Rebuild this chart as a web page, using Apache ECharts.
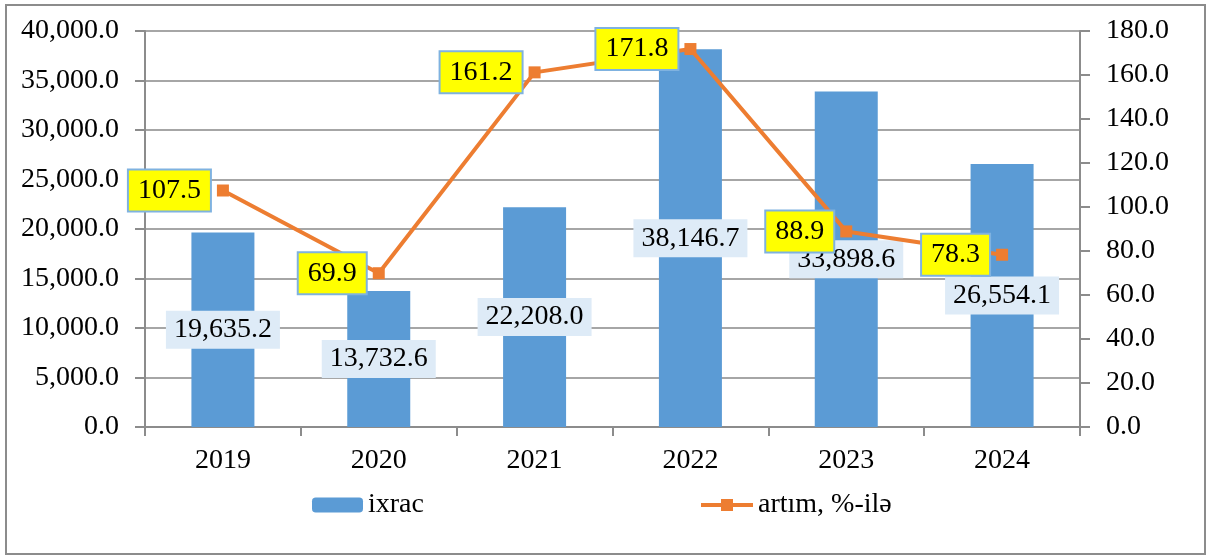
<!DOCTYPE html>
<html>
<head>
<meta charset="utf-8">
<script src="https://cdn.jsdelivr.net/npm/echarts@6/dist/echarts.min.js"></script>
<style>
  html, body { margin: 0; padding: 0; background: #fff; }
  #chart { width: 1207px; height: 556px; }
</style>
</head>
<body>
<div id="chart"></div>
<script>
const years = ["2019", "2020", "2021", "2022", "2023", "2024"];
const exportValues = [19635.2, 13732.6, 22208.0, 38146.7, 33898.6, 26554.1];
const growthValues = [107.5, 69.9, 161.2, 171.8, 88.9, 78.3];

const serif = "Liberation Serif";
const fmt1 = v => Number(v).toLocaleString("en-US", { minimumFractionDigits: 1, maximumFractionDigits: 1 });

const chart = echarts.init(document.getElementById("chart"));

const options = {
  animation: false,
  textStyle: { fontFamily: serif },
  graphic: [{
    type: "rect",
    shape: { x: 6, y: 5, width: 1199, height: 549 },
    style: { fill: "none", stroke: "#8c8c8c", lineWidth: 2 },
    silent: true
  }],
  grid: { left: 145, right: 127, top: 31, bottom: 129 },
  legend: [
    {
      left: 307, top: 486,
      data: ["ixrac"],
      itemWidth: 51, itemHeight: 15,
      textStyle: { fontFamily: serif, fontSize: 28, color: "#000" }
    },
    {
      left: 694, top: 486,
      data: ["artım, %-ilə"],
      itemWidth: 52, itemHeight: 15,
      lineStyle: { width: 4 },
      textStyle: { fontFamily: serif, fontSize: 28, color: "#000" }
    }
  ],
  xAxis: {
    type: "category",
    data: years,
    axisLine: { lineStyle: { color: "#8c8c8c", width: 2 } },
    axisTick: { show: true, length: 9, lineStyle: { color: "#8c8c8c", width: 2 } },
    axisLabel: { fontFamily: serif, fontSize: 28, color: "#000", margin: 20 }
  },
  yAxis: [
    {
      type: "value",
      min: 0, max: 40000, interval: 5000,
      axisLine: { show: true, lineStyle: { color: "#8c8c8c", width: 2 } },
      axisTick: { show: true, length: 10, lineStyle: { color: "#8c8c8c", width: 2 } },
      splitLine: { lineStyle: { color: "#a6a6a6", width: 2 } },
      axisLabel: { fontFamily: serif, fontSize: 28, color: "#000", margin: 26, formatter: fmt1 }
    },
    {
      type: "value",
      min: 0, max: 180, interval: 20,
      axisLine: { show: true, lineStyle: { color: "#8c8c8c", width: 2 } },
      axisTick: { show: true, length: 10, lineStyle: { color: "#8c8c8c", width: 2 } },
      splitLine: { show: false },
      axisLabel: { fontFamily: serif, fontSize: 28, color: "#000", margin: 26, formatter: fmt1 }
    }
  ],
  series: [
    {
      name: "ixrac",
      type: "bar",
      data: exportValues,
      barWidth: 63,
      itemStyle: { color: "#5B9BD5" },
      z: 2,
      label: {
        show: true,
        position: "inside",
        formatter: p => fmt1(p.value),
        fontFamily: serif, fontSize: 28, color: "#000",
        backgroundColor: "#DEEBF7",
        padding: [6, 8, 4, 8]
      }
    },
    {
      name: "artım, %-ilə",
      type: "line",
      yAxisIndex: 1,
      data: growthValues,
      symbol: "rect",
      symbolSize: 12,
      lineStyle: { color: "#ED7D31", width: 4 },
      itemStyle: { color: "#ED7D31" },
      z: 5,
      label: {
        show: true,
        position: "left",
        distance: 7,
        formatter: p => fmt1(p.value),
        fontFamily: serif, fontSize: 28, color: "#000",
        backgroundColor: "#FFFF00",
        borderColor: "#7FB2E0",
        borderWidth: 2,
        padding: [7, 9, 5, 9]
      }
    }
  ]
};

chart.setOption(options, true);
</script>
</body>
</html>
